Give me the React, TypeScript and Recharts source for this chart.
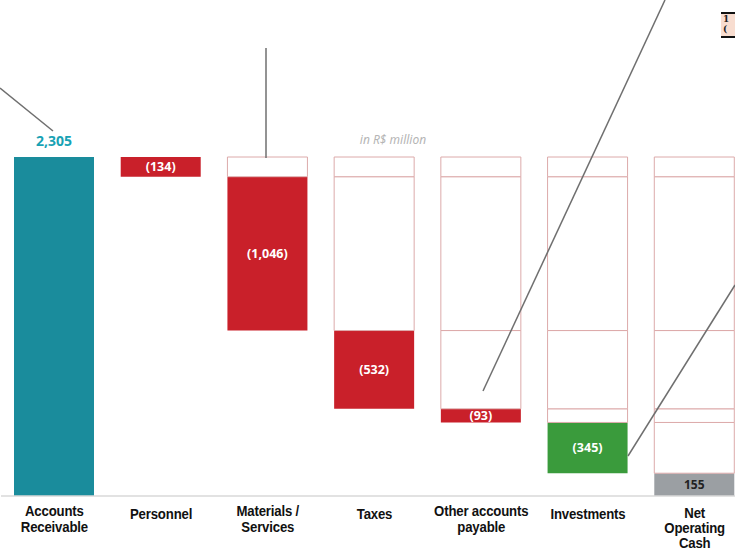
import { BarChart, Bar, XAxis, YAxis, Cell, LabelList } from 'recharts';

// categories and values (R$ million)
const categories = [
  'Accounts|Receivable',
  'Personnel',
  'Materials /|Services',
  'Taxes',
  'Other accounts|payable',
  'Investments',
  'Net|Operating|Cash',
];
const receivable = 2305;
const deductions = [134, 1046, 532, 93, 345]; // personnel, materials, taxes, other, investments
const deductionLabels = ['(134)', '(1,046)', '(532)', '(93)', '(345)'];
const netCash = 155;
const segKeys = ['per', 'mat', 'tax', 'oth', 'inv'];
const activeColors = ['#c9202a', '#c9202a', '#c9202a', '#c9202a', '#3a9b3c'];

// row = one column of the waterfall, ghost segments show earlier deductions
const rows = categories.map((name, i) => {
  const row: any = { name, base: 0, active: -1, baseLabel: '' };
  segKeys.forEach((k) => {
    row[k] = 0;
    row[k + 'Label'] = '';
  });
  if (i === 0) {
    row.base = receivable;
    row.baseLabel = '2,305';
  } else if (i === categories.length - 1) {
    row.base = netCash;
    row.baseLabel = '155';
    deductions.forEach((d, j) => (row[segKeys[j]] = d));
  } else {
    const j = i - 1;
    row.active = j;
    row.base = receivable - deductions.slice(0, j + 1).reduce((a, b) => a + b, 0);
    for (let m = 0; m <= j; m++) row[segKeys[m]] = deductions[m];
    row[segKeys[j] + 'Label'] = deductionLabels[j];
  }
  return row;
});

const ghostStroke = '#dcaaaa';
const font = '"Noto Sans", "DejaVu Sans", sans-serif';

const AxisTick = (props: any) => {
  const { x, y, payload } = props;
  const lines = String(payload.value).split('|');
  const dy = lines.length === 1 ? 23 : lines.length === 3 ? 21.5 : 20;
  const step = lines.length === 3 ? 15.5 : 16;
  // narrow look: squeeze the text horizontally around its centre
  return (
    <g transform={`translate(${x},${y + dy}) scale(0.88,1)`}>
      <text
        x={0}
        y={0}
        textAnchor="middle"
        fill="#111"
        fontSize={15}
        fontWeight="bold"
        letterSpacing={-0.2}
        fontFamily='"Liberation Sans", Arial, sans-serif'
      >
        {lines.map((l, k) => (
          <tspan key={k} x={0} dy={k === 0 ? 0 : step}>
            {l}
          </tspan>
        ))}
      </text>
    </g>
  );
};

const segLabel = (props: any) => {
  const { x, y, width, height, value } = props;
  if (!value) return null;
  return (
    <text
      x={x + width / 2}
      y={y + height / 2 + 4.5}
      textAnchor="middle"
      fill="#fff"
      fontSize={12.5}
      fontWeight="bold"
      fontFamily={font}
    >
      {value}
    </text>
  );
};

const baseLabel = (props: any) => {
  const { x, y, width, height, value } = props;
  if (value === '2,305') {
    return (
      <text x={x + width / 2} y={y - 11} textAnchor="middle" fill="#18a2b4" fontSize={14} fontWeight="bold" fontFamily={font}>
        {value}
      </text>
    );
  }
  if (value) {
    return (
      <text x={x + width / 2} y={y + height / 2 + 4.5} textAnchor="middle" fill="#222" fontSize={12} fontWeight="bold" fontFamily={font}>
        {value}
      </text>
    );
  }
  return null;
};

export default function App() {
  return (
    <div style={{ position: 'absolute', left: 0, top: 0, width: 735, height: 553, overflow: 'hidden', background: '#fff' }}>
      <BarChart
        width={748}
        height={553}
        data={rows}
        margin={{ top: 157, right: 0, bottom: 0, left: 1 }}
        barSize={80}
      >
        <XAxis
          dataKey="name"
          height={57}
          tick={<AxisTick />}
          tickLine={false}
          tickSize={0}
          tickMargin={0}
          axisLine={{ stroke: '#d8d8d8', strokeWidth: 1.5 }}
          interval={0}
        />
        <YAxis hide domain={[0, receivable]} />
        <Bar dataKey="base" stackId="a" isAnimationActive={false}>
          {rows.map((r, i) => (
            <Cell key={i} fill={i === 0 ? '#1a8c9c' : i === rows.length - 1 ? '#9b9fa3' : 'transparent'} />
          ))}
          <LabelList dataKey="baseLabel" content={baseLabel} />
        </Bar>
        {[4, 3, 2, 1, 0].map((j) => (
          <Bar key={segKeys[j]} dataKey={segKeys[j]} stackId="a" isAnimationActive={false}>
            {rows.map((r, i) => (
              <Cell
                key={i}
                fill={r.active === j ? activeColors[j] : '#fff'}
                stroke={r.active === j ? 'none' : ghostStroke}
                strokeWidth={1}
              />
            ))}
            <LabelList dataKey={segKeys[j] + 'Label'} content={segLabel} />
          </Bar>
        ))}
      </BarChart>
      <div
        style={{
          position: 'absolute',
          left: 357,
          top: 131,
          width: 72,
          textAlign: 'center',
          fontFamily: font,
          fontStyle: 'italic',
          fontSize: 12,
          color: '#b5b5b5',
        }}
      >
        in R$ million
      </div>
      {/* leader lines from the surrounding slide */}
      <svg width={735} height={553} style={{ position: 'absolute', left: 0, top: 0, pointerEvents: 'none' }}>
        <g stroke="#6f6f6f" strokeWidth={1.5} fill="none">
          <line x1={0} y1={88} x2={53} y2={131} />
          <line x1={266} y1={48} x2={266} y2={158} />
          <line x1={665} y1={0} x2={483} y2={391} />
          <line x1={735} y1={285} x2={628} y2={456} />
        </g>
      </svg>
      <div
        style={{
          position: 'absolute',
          left: 721,
          top: 12,
          width: 20,
          height: 22,
          background: '#f8ddd0',
          borderTop: '2px solid #111',
          borderBottom: '2px solid #111',
          fontFamily: '"DejaVu Serif", serif',
          fontWeight: 'bold',
          fontSize: 9,
          lineHeight: '10px',
          color: '#222',
          paddingLeft: 2,
        }}
      >
        1<br />(
      </div>
    </div>
  );
}
